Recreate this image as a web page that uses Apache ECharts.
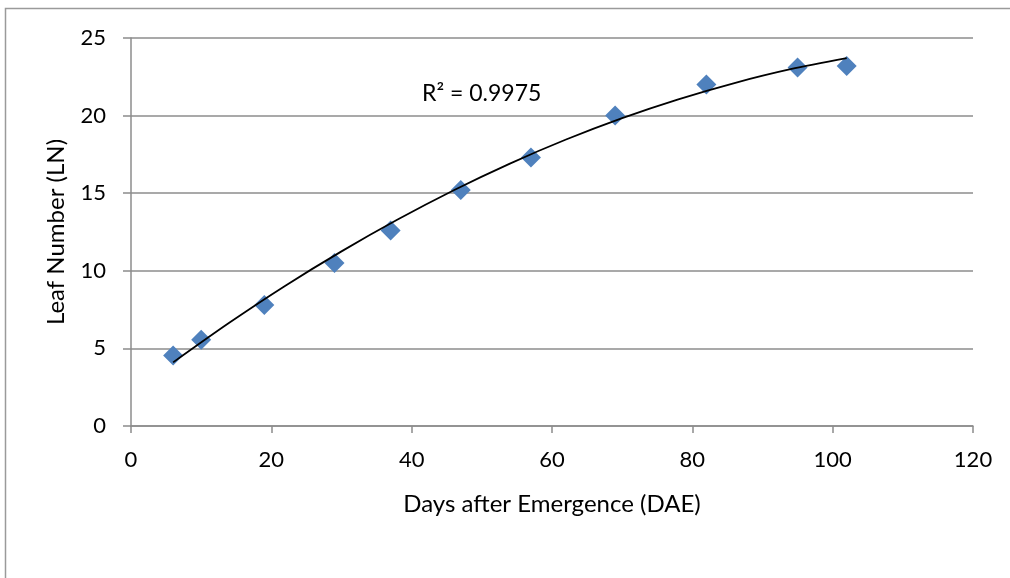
<!DOCTYPE html>
<html>
<head>
<meta charset="utf-8">
<script src="https://cdn.jsdelivr.net/npm/echarts@6/dist/echarts.min.js"></script>
<style>
  html, body { margin: 0; padding: 0; background: #fff; }
  #main { width: 1010px; height: 578px; }
</style>
</head>
<body>
<div id="main"></div>
<script>
// measured points
var days = [6, 10, 19, 29, 37, 47, 57, 69, 82, 95, 102];
var leaves = [4.55, 5.55, 7.8, 10.5, 12.6, 15.2, 17.3, 20.0, 22.0, 23.1, 23.2];

// trend line
var trendX = [6, 14, 22, 30, 38, 46, 54, 62, 70, 78, 86, 94, 102];
var trendY = [4.1, 6.65, 9.04, 11.25, 13.3, 15.19, 16.91, 18.46, 19.84, 21.05, 22.1, 22.99, 23.7];

var rLabel = 'R² = 0.9975';
var font = 'Lato';
var fs = 22;
var axisGray = '#8c8c8c';

var myChart = echarts.init(document.getElementById('main'));

var pts = [];
for (var i = 0; i < days.length; i++) pts.push([days[i], leaves[i]]);
var trend = [];
for (var j = 0; j < trendX.length; j++) trend.push([trendX[j], trendY[j]]);

var option = {
    animation: false,
    backgroundColor: '#fff',
    grid: { left: 131, right: 37, top: 38, bottom: 152 },
    graphic: [
        {
            type: 'rect',
            shape: { x: 5.5, y: 8.5, width: 1100, height: 700 },
            style: { fill: 'none', stroke: '#9a9a9a', lineWidth: 1.5 },
            silent: true
        },
        {
            type: 'text',
            left: 422, top: 82,
            style: { text: rLabel, font: '23px "' + font + '"', fill: '#000' }
        }
    ],
    xAxis: {
        type: 'value',
        min: 0, max: 120, interval: 20,
        name: 'Days after Emergence (DAE)',
        nameLocation: 'middle',
        nameGap: 66,
        nameTextStyle: { fontFamily: font, fontSize: 24, color: '#000' },
        axisLine: { lineStyle: { color: axisGray, width: 1.5 } },
        axisTick: { show: true, length: 7, inside: false, lineStyle: { color: axisGray, width: 1.5 } },
        axisLabel: { fontFamily: font, fontSize: fs, color: '#000', margin: 23 },
        splitLine: { show: false }
    },
    yAxis: {
        type: 'value',
        min: 0, max: 25, interval: 5,
        name: 'Leaf Number (LN)',
        nameLocation: 'middle',
        nameGap: 63,
        nameTextStyle: { fontFamily: font, fontSize: 24, color: '#000' },
        axisLine: { show: true, lineStyle: { color: axisGray, width: 1.5 } },
        axisTick: { show: true, length: 8, lineStyle: { color: axisGray, width: 1.5 } },
        axisLabel: { fontFamily: font, fontSize: fs, color: '#000', margin: 25 },
        splitLine: { show: true, lineStyle: { color: axisGray, width: 1.5 } }
    },
    series: [
        {
            type: 'line',
            data: trend,
            smooth: 0.3,
            showSymbol: false,
            lineStyle: { color: '#000', width: 1.8 },
            z: 3
        },
        {
            type: 'scatter',
            data: pts,
            symbol: 'diamond',
            symbolSize: [20, 20],
            itemStyle: { color: '#4f81bd', opacity: 1 },
            z: 2
        }
    ]
};

myChart.setOption(option);
</script>
</body>
</html>
